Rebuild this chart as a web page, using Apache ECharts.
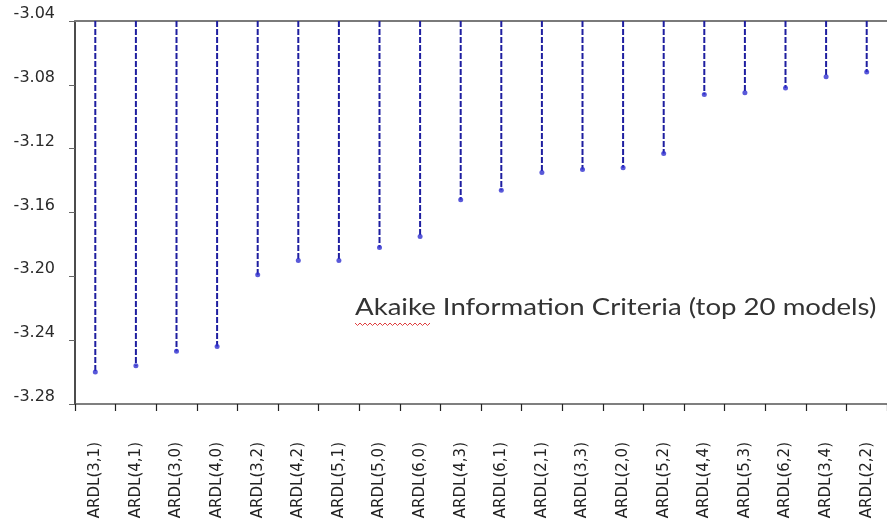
<!DOCTYPE html>
<html>
<head>
<meta charset="utf-8">
<script src="https://cdn.jsdelivr.net/npm/echarts@6/dist/echarts.min.js"></script>
<style>
  html, body { margin: 0; padding: 0; background: #ffffff; }
  #chart { width: 887px; height: 527px; }
</style>
</head>
<body>
<div id="chart"></div>
<script>
// ARDL model specifications, ranked by AIC
const models = [
  'ARDL(3,1)', 'ARDL(4,1)', 'ARDL(3,0)', 'ARDL(4,0)', 'ARDL(3,2)',
  'ARDL(4,2)', 'ARDL(5,1)', 'ARDL(5,0)', 'ARDL(6,0)', 'ARDL(4,3)',
  'ARDL(6,1)', 'ARDL(2,1)', 'ARDL(3,3)', 'ARDL(2,0)', 'ARDL(5,2)',
  'ARDL(4,4)', 'ARDL(5,3)', 'ARDL(6,2)', 'ARDL(3,4)', 'ARDL(2,2)'
];
// Akaike information criterion of each model
const aicValues = [
  -3.260, -3.256, -3.247, -3.244, -3.199,
  -3.190, -3.190, -3.182, -3.175, -3.152,
  -3.146, -3.135, -3.133, -3.132, -3.123,
  -3.086, -3.085, -3.082, -3.075, -3.072
];
// value axis range and step
const yMin = -3.28;
const yMax = -3.04;
const yStep = 0.04;

const chartTitle = 'Akaike Information Criteria (top 20 models)';

const chart = echarts.init(document.getElementById('chart'));

const points = aicValues.map((v, i) => [i, v]);

// wavy underline beneath the first word of the caption
const squiggle = [];
for (let k = 0; k <= 30; k++) {
  squiggle.push([355 + k * 2.5, 323 + (k % 2 === 0 ? 0 : 2.5)]);
}

chart.setOption({
  backgroundColor: '#ffffff',
  animation: false,
  grid: { left: 75, right: 0, top: 21, bottom: 123, containLabel: false },
  xAxis: [
    {
      type: 'category',
      data: models,
      boundaryGap: true,
      axisLine: { show: true, lineStyle: { color: '#555555', width: 1.5 } },
      axisTick: { show: true, length: 7, alignWithLabel: false, lineStyle: { color: '#222222', width: 1.2 } },
      axisLabel: {
        rotate: 90,
        margin: 38,
        fontFamily: 'DejaVu Sans',
        fontSize: 15,
        color: '#222222'
      },
      splitLine: { show: false }
    },
    {
      type: 'category',
      data: models,
      position: 'top',
      axisLine: { show: true, lineStyle: { color: '#7a7a7a', width: 2 } },
      axisTick: { show: false },
      axisLabel: { show: false },
      splitLine: { show: false }
    }
  ],
  yAxis: {
    type: 'value',
    min: yMin,
    max: yMax,
    interval: yStep,
    axisLine: { show: true, onZero: false, lineStyle: { color: '#111111', width: 1.5 } },
    axisTick: { show: true, length: 6, lineStyle: { color: '#666666' } },
    axisLabel: {
      margin: 20,
      fontFamily: 'DejaVu Sans',
      fontSize: 16,
      color: '#2a2a2a',
      verticalAlign: 'bottom',
      lineHeight: 14,
      formatter: v => v.toFixed(2)
    },
    splitLine: { show: false }
  },
  series: [
    {
      type: 'custom',
      data: points,
      encode: { x: 0, y: 1 },
      renderItem: function (params, api) {
        const start = api.coord([api.value(0), yMax]);
        const end = api.coord([api.value(0), api.value(1)]);
        return {
          type: 'line',
          shape: { x1: start[0], y1: start[1], x2: end[0], y2: end[1] },
          style: { stroke: '#1e1ea0', lineWidth: 2, lineDash: [6, 2] }
        };
      },
      z: 2
    },
    {
      type: 'scatter',
      data: points,
      symbol: 'circle',
      symbolSize: 5,
      itemStyle: { color: '#3030d0' },
      z: 3
    }
  ],
  graphic: [
    {
      type: 'text',
      x: 355,
      y: 295,
      scaleX: 1.15,
      style: {
        text: chartTitle,
        fontFamily: 'Lato',
        fontSize: 24,
        fill: '#333333'
      }
    },
    {
      type: 'polyline',
      shape: { points: squiggle },
      style: { stroke: '#e04040', lineWidth: 1, fill: null }
    }
  ]
});
</script>
</body>
</html>
